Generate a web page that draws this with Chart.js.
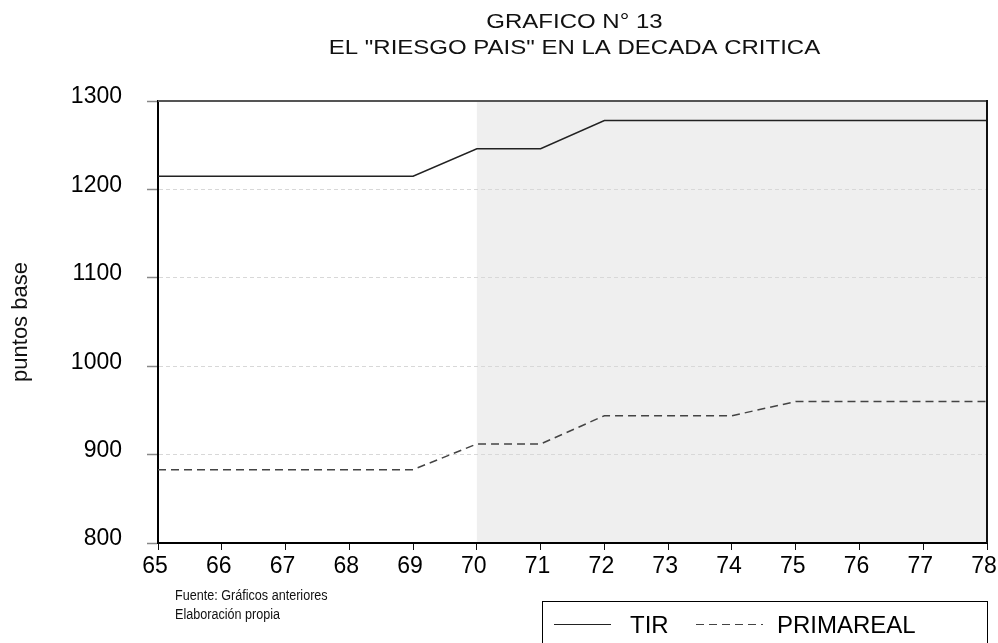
<!DOCTYPE html>
<html>
<head>
<meta charset="utf-8">
<script src="https://cdn.jsdelivr.net/npm/chart.js@4/dist/chart.umd.min.js"></script>
<style>
html,body{margin:0;padding:0;background:#fff;}
#wrap{position:relative;width:998px;height:643px;}
</style>
</head>
<body>
<div id="wrap"><canvas id="c" width="998" height="643"></canvas></div>
<script>
const years = ['65','66','67','68','69','70','71','72','73','74','75','76','77','78'];
const tir = [1215,1215,1215,1215,1215,1246,1246,1278,1278,1278,1278,1278,1278,1278];
const primareal = [883,883,883,883,883,912,912,944,944,944,960,960,960,960];
const yTicks = [800,900,1000,1100,1200,1300];
const shadeFrom = '70';
const shadeTo = '78';
const titleLines = ['GRAFICO N° 13', 'EL "RIESGO PAIS" EN LA DECADA CRITICA'];
const yTitle = 'puntos base';
const notes = ['Fuente: Gráficos anteriores', 'Elaboración propia'];

const FONT = "'Liberation Sans', Arial, sans-serif";

const decorPlugin = {
  id: 'decor',
  beforeDraw(chart) {
    const {ctx, chartArea, scales} = chart;
    const x0 = scales.x.getPixelForValue(years.indexOf(shadeFrom));
    const x1 = scales.x.getPixelForValue(years.indexOf(shadeTo));
    ctx.save();
    ctx.fillStyle = '#efefef';
    ctx.fillRect(x0, chartArea.top, x1 - x0, chartArea.bottom - chartArea.top);
    ctx.restore();
  },
  afterDraw(chart) {
    const {ctx, chartArea} = chart;
    ctx.save();
    // title (slightly wide lettering, as in the original)
    ctx.fillStyle = '#111';
    ctx.font = "20px " + FONT;
    ctx.textAlign = 'center';
    ctx.textBaseline = 'alphabetic';
    const cx = (chartArea.left + chartArea.right) / 2 + 2;
    titleLines.forEach((t, i) => {
      ctx.save();
      ctx.translate(cx, 28 + i * 26);
      ctx.scale(1.2, 1);
      ctx.fillText(t, 0, 0);
      ctx.restore();
    });
    // top border
    ctx.strokeStyle = '#555';
    ctx.lineWidth = 2;
    ctx.beginPath();
    ctx.moveTo(chartArea.left, chartArea.top);
    ctx.lineTo(chartArea.right, chartArea.top);
    ctx.stroke();
    // right border
    ctx.strokeStyle = '#111';
    ctx.beginPath();
    ctx.moveTo(chartArea.right, chartArea.top - 1);
    ctx.lineTo(chartArea.right, chartArea.bottom);
    ctx.stroke();
    // footnotes (condensed lettering)
    ctx.fillStyle = '#111';
    ctx.font = "14px " + FONT;
    ctx.textBaseline = 'middle';
    ctx.textAlign = 'left';
    notes.forEach((t, i) => {
      ctx.save();
      ctx.translate(chartArea.left + 17, chartArea.bottom + 53 + i * 19);
      ctx.scale(0.9, 1);
      ctx.fillText(t, 0, 0);
      ctx.restore();
    });
    // legend box
    const bx = chartArea.right - 445, by = chartArea.bottom + 58;
    ctx.strokeStyle = '#000';
    ctx.lineWidth = 1;
    ctx.strokeRect(bx + 0.5, by + 0.5, 445, 60);
    const ly = by + 32;
    ctx.font = "24px " + FONT;
    ctx.textBaseline = 'alphabetic';
    const ds = chart.data.datasets;
    const items = [
      {x: bx + 12, w: 57, tx: bx + 88, d: ds[0]},
      {x: bx + 154, w: 67, tx: bx + 235, d: ds[1]}
    ];
    items.forEach(it => {
      ctx.strokeStyle = it.d.borderColor;
      ctx.lineWidth = 1;
      ctx.setLineDash(it.d.borderDash || []);
      ctx.beginPath();
      ctx.moveTo(it.x, ly - 8.5);
      ctx.lineTo(it.x + it.w, ly - 8.5);
      ctx.stroke();
      ctx.setLineDash([]);
      ctx.fillStyle = '#000';
      ctx.fillText(it.d.label, it.tx, ly);
    });
    ctx.restore();
  }
};

new Chart(document.getElementById('c'), {
  type: 'line',
  data: {
    labels: years,
    datasets: [
      {label: 'TIR', data: tir, borderColor: '#222', borderWidth: 1.5, pointRadius: 0, tension: 0, fill: false},
      {label: 'PRIMAREAL', data: primareal, borderColor: '#444', borderWidth: 1.5, borderDash: [8, 5], pointRadius: 0, tension: 0, fill: false}
    ]
  },
  options: {
    responsive: false,
    animation: false,
    devicePixelRatio: 1,
    layout: {padding: {top: 101, right: 11, bottom: 62, left: 0}},
    plugins: {
      legend: {display: false},
      tooltip: {enabled: false},
      title: {display: false}
    },
    scales: {
      x: {
        type: 'category',
        offset: false,
        grid: {drawOnChartArea: false, drawTicks: true, tickLength: 7, tickColor: '#111', tickWidth: 1},
        border: {display: true, color: '#000', width: 2},
        ticks: {color: '#000', font: {family: FONT, size: 23}, padding: 3, labelOffset: -3, maxRotation: 0, autoSkip: false},
        afterFit(s) { s.height = 38; s.paddingLeft = 0; s.paddingRight = 0; }
      },
      y: {
        min: 800, max: 1300,
        afterBuildTicks(s) { s.ticks = yTicks.map(v => ({value: v})); },
        grid: {color: '#d8d8d8', lineWidth: 1, tickBorderDash: [], tickColor: '#888', tickLength: 11, tickWidth: 1.5},
        border: {display: true, color: '#000', width: 2, dash: [4, 3]},
        ticks: {color: '#000', font: {family: FONT, size: 23}, padding: 25, labelOffset: -4, callback: v => String(v)},
        title: {display: true, text: yTitle, color: '#111', font: {family: FONT, size: 22}, padding: {top: 8, bottom: 0}},
        afterFit(s) { s.width = 158; s.paddingTop = 0; s.paddingBottom = 0; }
      }
    }
  },
  plugins: [decorPlugin]
});
</script>
</body>
</html>
